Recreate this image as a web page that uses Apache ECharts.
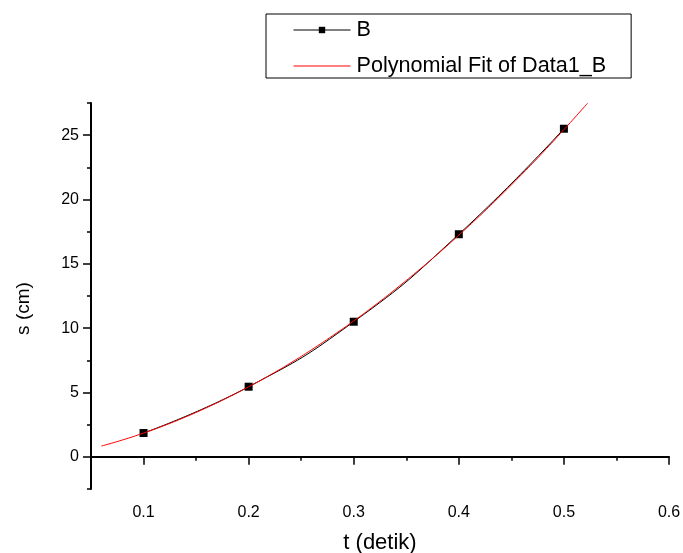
<!DOCTYPE html>
<html>
<head>
<meta charset="utf-8">
<script src="https://cdn.jsdelivr.net/npm/echarts@6/dist/echarts.min.js"></script>
<style>html,body{margin:0;padding:0;background:#fff;}#c{width:683px;height:553px;}</style>
</head>
<body>
<div id="c"></div>
<script>
// Measured data (series B)
var tValues = [0.1, 0.2, 0.3, 0.4, 0.5];
var sValues = [1.85, 5.45, 10.5, 17.3, 25.5];
// Polynomial fit curve
var fitT = [0.06, 0.08, 0.10, 0.12, 0.14, 0.16, 0.18, 0.20, 0.22, 0.24, 0.26, 0.28, 0.30, 0.32, 0.34, 0.36, 0.38, 0.40, 0.42, 0.44, 0.46, 0.48, 0.50, 0.52, 0.5225];
var fitS = [0.84, 1.31, 1.85, 2.44, 3.10, 3.82, 4.60, 5.44, 6.34, 7.30, 8.33, 9.42, 10.56, 11.77, 13.05, 14.38, 15.77, 17.23, 18.74, 20.32, 21.96, 23.66, 25.43, 27.25, 27.48];
// Tick values
var xMajor = [0.1, 0.2, 0.3, 0.4, 0.5, 0.6];
var xMinor = [0.05, 0.15, 0.25, 0.35, 0.45, 0.55];
var yMajor = [0, 5, 10, 15, 20, 25];
var yMinor = [-2.5, 2.5, 7.5, 12.5, 17.5, 22.5, 27.5];
var seriesNames = ['B', 'Polynomial Fit of Data1_B'];

var FONT = 'Liberation Sans, Arial, sans-serif';
function pairs(a, b) { return a.map(function (v, i) { return [v, b[i]]; }); }

var chart = echarts.init(document.getElementById('c'));
var axisLine = { show: true, lineStyle: { color: '#000', width: 2 } };
chart.setOption({
  animation: false,
  backgroundColor: '#fff',
  grid: { left: 91, right: 14, top: 103, bottom: 64, containLabel: false, outerBoundsMode: 'none' },
  legend: {
    orient: 'vertical',
    left: 266, top: 14,
    padding: [5, 25, 1, 27],
    itemWidth: 57, itemHeight: 8, itemGap: 14,
    borderColor: '#000', borderWidth: 1, borderRadius: 0,
    textStyle: { fontFamily: FONT, fontSize: 21.6, lineHeight: 20, color: '#000', padding: [0, 0, 0, 1] },
    data: [
      { name: seriesNames[0], lineStyle: { width: 1, color: '#000' }, itemStyle: { color: '#000' } },
      { name: seriesNames[1], lineStyle: { width: 1, color: '#ff0000' }, itemStyle: { opacity: 0 } }
    ]
  },
  xAxis: [{
    type: 'value', min: 0.05, max: 0.6, position: 'bottom',
    name: 't (detik)', nameLocation: 'middle', nameGap: 43,
    nameTextStyle: { fontFamily: FONT, fontSize: 22, color: '#000' },
    axisLine: axisLine,
    axisTick: { show: true, inside: false, length: 8, lineStyle: { color: '#000', width: 1.5 }, customValues: xMajor },
    axisLabel: { show: true, fontFamily: FONT, fontSize: 16, color: '#000', margin: 16, customValues: xMajor,
      formatter: function (v) { return (+v).toFixed(1); } },
    splitLine: { show: false }
  }, {
    type: 'value', min: 0.05, max: 0.6, position: 'bottom', gridIndex: 0,
    axisLine: { show: false },
    axisTick: { show: true, length: 4, lineStyle: { color: '#000', width: 1.5 }, customValues: xMinor },
    axisLabel: { show: false },
    splitLine: { show: false }
  }],
  yAxis: [{
    type: 'value', min: -2.5, max: 27.5, position: 'left',
    name: 's (cm)', nameLocation: 'middle', nameGap: 58, nameRotate: 90,
    nameTextStyle: { fontFamily: FONT, fontSize: 19, color: '#000', padding: [0, 25, 0, 0] },
    axisLine: axisLine,
    axisTick: { show: true, length: 8, lineStyle: { color: '#000', width: 1.5 }, customValues: yMajor },
    axisLabel: { show: true, fontFamily: FONT, fontSize: 16, color: '#000', margin: 12, customValues: yMajor },
    splitLine: { show: false }
  }, {
    type: 'value', min: -2.5, max: 27.5, position: 'left',
    axisLine: { show: false },
    axisTick: { show: true, length: 4, lineStyle: { color: '#000', width: 1.5 }, customValues: yMinor },
    axisLabel: { show: false },
    splitLine: { show: false }
  }],
  series: [{
    name: seriesNames[0], type: 'line', xAxisIndex: 0, yAxisIndex: 0,
    data: pairs(tValues, sValues),
    symbol: 'rect', symbolSize: 8, showSymbol: true, smooth: true,
    lineStyle: { color: '#000', width: 1 },
    itemStyle: { color: '#000' },
    z: 2
  }, {
    name: seriesNames[1], type: 'line', xAxisIndex: 0, yAxisIndex: 0,
    data: pairs(fitT, fitS),
    symbol: 'none', smooth: true,
    lineStyle: { color: '#ff0000', width: 1 },
    itemStyle: { color: '#ff0000' },
    z: 3
  }]
});
</script>
</body>
</html>
